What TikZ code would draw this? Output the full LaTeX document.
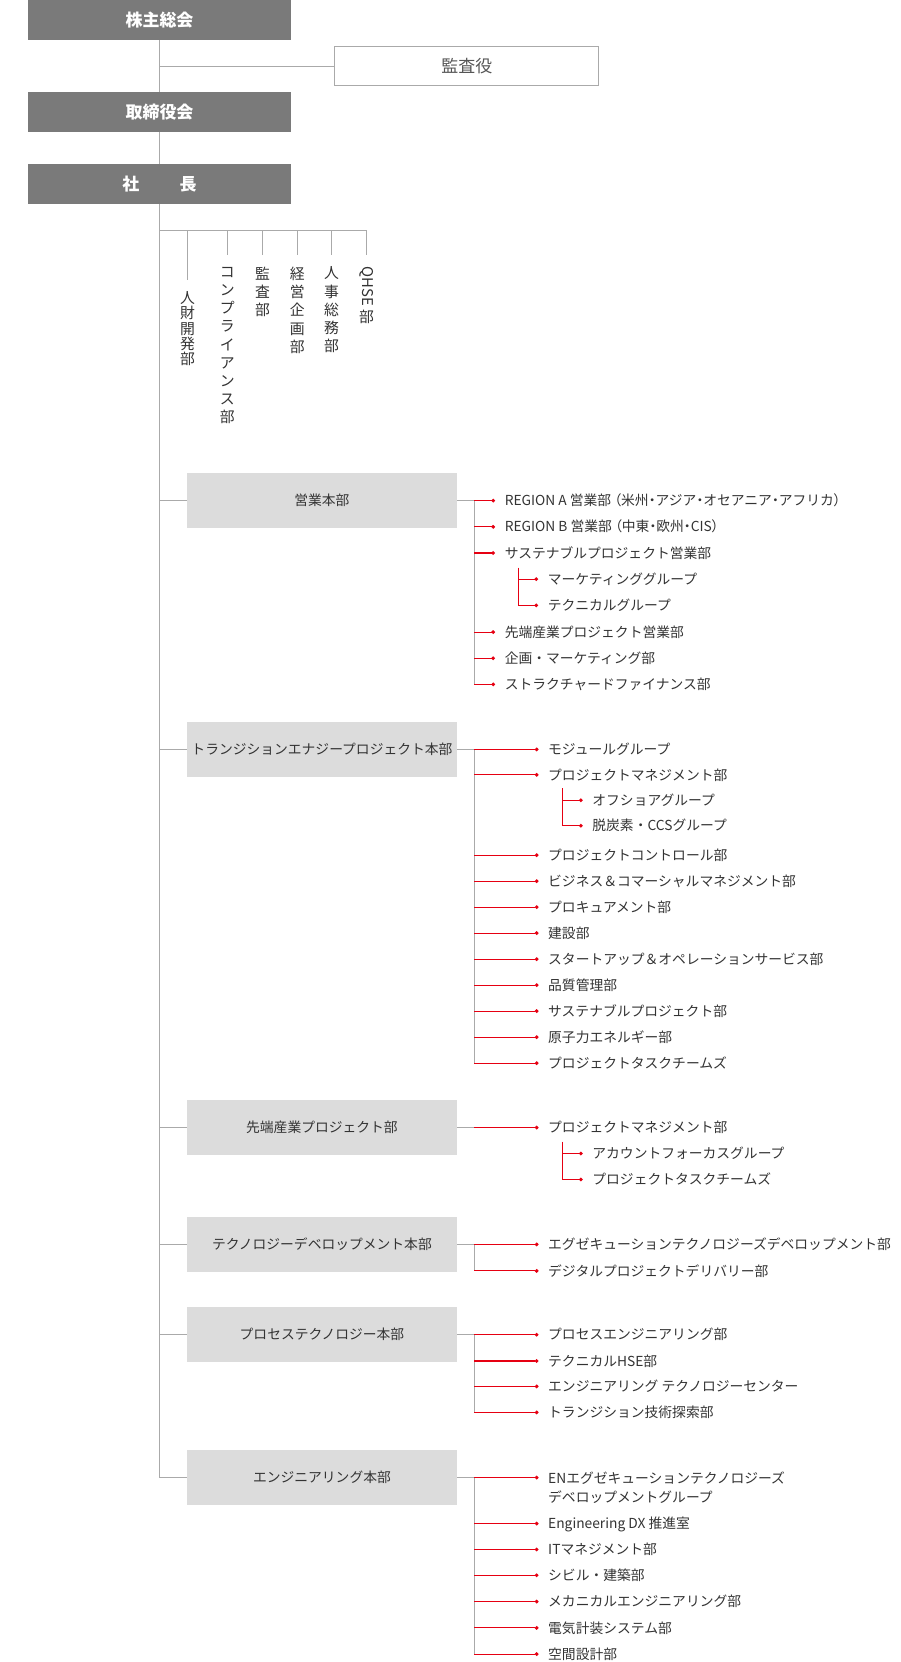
\documentclass[tikz,border=0pt]{standalone}
\usepackage{fontspec}
\setmainfont{Noto Sans CJK JP}
\newfontfamily\jppaltfont{Noto Sans CJK JP}[RawFeature=+palt]
\newcommand{\jppalt}[1]{{\jppaltfont #1}}
\usetikzlibrary{arrows.meta}
\definecolor{boxdark}{HTML}{7A7A7A}
\definecolor{boxlight}{HTML}{DCDCDC}
\definecolor{linegray}{HTML}{AAAAAA}
\definecolor{redline}{HTML}{E60012}
\definecolor{txt}{HTML}{333333}
\definecolor{txtsoft}{HTML}{555555}
\begin{document}
\begin{tikzpicture}[x=1pt,y=-1pt,
  topbox/.style={fill=boxdark, text=white, minimum width=249pt, minimum height=37.5pt, inner sep=0pt, font=\fontsize{16}{16}\selectfont\bfseries},
  auditbox/.style={draw=linegray, line width=0.9pt, fill=white, text=txtsoft, minimum width=249pt, minimum height=36.5pt, inner sep=0pt, font=\fontsize{16}{16}\selectfont},
  deptbox/.style={fill=boxlight, text=txt, minimum width=254.5pt, minimum height=52pt, inner sep=0pt, font=\fontsize{13}{13}\selectfont},
  item/.style={anchor=west, inner xsep=9pt, inner ysep=0pt, text=txt, font=\fontsize{13}{13}\selectfont, text height=11.4pt, text depth=1.6pt},
  vtext/.style={anchor=north, inner xsep=0pt, inner ysep=11pt, align=center, text=txt, font=\fontsize{14}{17.2}\selectfont},
  gline/.style={draw=linegray, line width=0.9pt},
  rline/.style={draw=redline, line width=1pt, -{Circle[length=3.4pt]}},
]
\fill[white] (0,0) rectangle (849.1,1568);
\useasboundingbox (0,0) rectangle (849.1,1568);

% top level
\node[topbox] (kabu) at (150.5,18.8) {株主総会};
\node[auditbox] (kansa) at (440.5,62.3) {監査役};
\node[topbox] (tori) at (150.5,105.5) {取締役会};
\node[topbox] (shacho) at (150.5,173.5) {社\hspace{38pt}長};

\draw[gline] (kabu.south) -- (tori.north);
\draw[gline] (kabu.south |- kansa.west) -- (kansa.west);
\draw[gline] (tori.south) -- (shacho.north);

% staff departments
\coordinate (staff) at (150.5,217);
\node[vtext, font=\fontsize{14}{14.4}\selectfont] (v1) at (177,264) {人\\財\\開\\発\\部};
\node[vtext] (v2) at (214.5,240.6) {コ\\ン\\プ\\ラ\\イ\\ア\\ン\\ス\\部};
\node[vtext] (v3) at (247.8,240.6) {監\\査\\部};
\node[vtext] (v4) at (280.5,240.6) {経\\営\\企\\画\\部};
\node[vtext] (v5) at (312.9,240.6) {人\\事\\総\\務\\部};
\node[vtext] (v6) at (345.9,240.6) {\rotatebox{-90}{QHSE}\\[3pt]部};
\draw[gline] (staff) -- (staff -| v6.north);
\foreach \v in {v1,v2,v3,v4,v5,v6} \draw[gline] (staff -| \v.north) -- (\v.north);

% divisions
\node[deptbox] (d1) at (303.75,472.3) {営業本部};
\node[deptbox] (d2) at (303.75,707) {トランジションエナジープロジェクト本部};
\node[deptbox] (d3) at (303.75,1063.8) {先端産業プロジェクト部};
\node[deptbox] (d4) at (303.75,1174) {テクノロジーデベロップメント本部};
\node[deptbox] (d5) at (303.75,1259.2) {プロセステクノロジー本部};
\node[deptbox] (d6) at (303.75,1394) {エンジニアリング本部};

\draw[gline] (shacho.south) |- (d6.west);
\foreach \d in {d1,d2,d3,d4,d5} \draw[gline] (shacho.south |- \d.west) -- (\d.west);

% group 1
\coordinate (t1) at (447.5,472.3);
\node[item] (a1) at (467,472.3) {REGION A 営業部 \jppalt{（}米州\jppalt{・}アジア\jppalt{・}オセアニア\jppalt{・}アフリカ\jppalt{）}};
\node[item] (a2) at (467,497) {REGION B 営業部 \jppalt{（}中東\jppalt{・}欧州\jppalt{・}CIS\jppalt{）}};
\node[item] (a3) at (467,521.7) {サステナブルプロジェクト営業部};
\node[item] (a4) at (507.6,546.4) {マーケティンググループ};
\node[item] (a5) at (507.6,571.1) {テクニカルグループ};
\node[item] (a6) at (467,596.3) {先端産業プロジェクト営業部};
\node[item] (a7) at (467,621) {企画・マーケティング部};
\node[item] (a8) at (467,645.7) {ストラクチャードファイナンス部};
\draw[gline] (d1.east) -- (t1) -- (t1 |- a8.west);
\foreach \a in {a1,a2,a3,a6,a7,a8} \draw[rline] (t1 |- \a.west) -- (\a.west);
\coordinate (s1) at (489,535.5);
\draw[rline] (s1 |- a4.west) -- (a4.west);
\draw[rline] (s1) |- (a5.west);

% group 2
\coordinate (t2) at (447.5,707);
\node[item] (b1) at (508,707) {モジュールグループ};
\node[item] (b2) at (508,731) {プロジェクトマネジメント部};
\node[item] (b3) at (549.7,755) {オフショアグループ};
\node[item] (b4) at (549.7,779) {脱炭素・CCSグループ};
\node[item] (b5) at (508,806.8) {プロジェクトコントロール部};
\node[item] (b6) at (508,831.3) {ビジネス＆コマーシャルマネジメント部};
\node[item] (b7) at (508,855.8) {プロキュアメント部};
\node[item] (b8) at (508,880.3) {建設部};
\node[item] (b9) at (508,904.9) {スタートアップ＆オペレーションサービス部};
\node[item] (b10) at (508,929.4) {品質管理部};
\node[item] (b11) at (508,953.9) {サステナブルプロジェクト部};
\node[item] (b12) at (508,978.5) {原子力エネルギー部};
\node[item] (b13) at (508,1003) {プロジェクトタスクチームズ};
\draw[gline] (d2.east) -- (t2) -- (t2 |- b13.west);
\foreach \b in {b1,b2,b5,b6,b7,b8,b9,b10,b11,b12,b13} \draw[rline] (t2 |- \b.west) -- (\b.west);
\coordinate (s2) at (530.8,743.7);
\draw[rline] (s2 |- b3.west) -- (b3.west);
\draw[rline] (s2) |- (b4.west);

% group 3
\coordinate (t3) at (447.5,1063.8);
\node[item] (c1) at (508,1063.8) {プロジェクトマネジメント部};
\node[item] (c2) at (549.7,1088.3) {アカウントフォーカスグループ};
\node[item] (c3) at (549.7,1112.7) {プロジェクトタスクチームズ};
\draw[gline] (d3.east) -- (t3);
\draw[rline] (t3) -- (c1.west);
\coordinate (s3) at (530.5,1077);
\draw[rline] (s3 |- c2.west) -- (c2.west);
\draw[rline] (s3) |- (c3.west);

% group 4
\coordinate (t4) at (447.5,1174);
\node[item] (e1) at (508,1174) {エグゼキューションテクノロジーズデベロップメント部};
\node[item] (e2) at (508,1199) {デジタルプロジェクトデリバリー部};
\draw[gline] (d4.east) -- (t4) -- (t4 |- e2.west);
\foreach \e in {e1,e2} \draw[rline] (t4 |- \e.west) -- (\e.west);

% group 5
\coordinate (t5) at (447.5,1259.2);
\node[item] (f1) at (508,1259.2) {プロセスエンジニアリング部};
\node[item] (f2) at (508,1284) {テクニカルHSE部};
\node[item] (f3) at (508,1308) {エンジニアリング テクノロジーセンター};
\node[item] (f4) at (508,1332.5) {トランジション技術探索部};
\draw[gline] (d5.east) -- (t5) -- (t5 |- f4.west);
\foreach \f in {f1,f2,f3,f4} \draw[rline] (t5 |- \f.west) -- (\f.west);

% group 6
\coordinate (t6) at (447.5,1394);
\coordinate (g1pt) at (508,1394);
\node[anchor=north west, inner xsep=9pt, inner ysep=0pt, text=txt, align=left, font=\fontsize{13}{18.3}\selectfont] (g1) at ([yshift=6.45pt]g1pt) {\rule{0pt}{11.4pt}ENエグゼキューションテクノロジーズ\\デベロップメントグループ};
\node[item] (g2) at (508,1437.4) {Engineering DX 推進室};
\node[item] (g3) at (508,1461.8) {ITマネジメント部};
\node[item] (g4) at (508,1486.2) {シビル・建築部};
\node[item] (g5) at (508,1511) {メカニカルエンジニアリング部};
\node[item] (g6) at (508,1535.8) {電気計装システム部};
\node[item] (g7) at (508,1560.5) {空間設計部};
\draw[gline] (d6.east) -- (t6) -- (t6 |- g7.west);
\draw[rline] (t6) -- (g1pt);
\foreach \g in {g2,g3,g4,g5,g6,g7} \draw[rline] (t6 |- \g.west) -- (\g.west);
\end{tikzpicture}
\end{document}
